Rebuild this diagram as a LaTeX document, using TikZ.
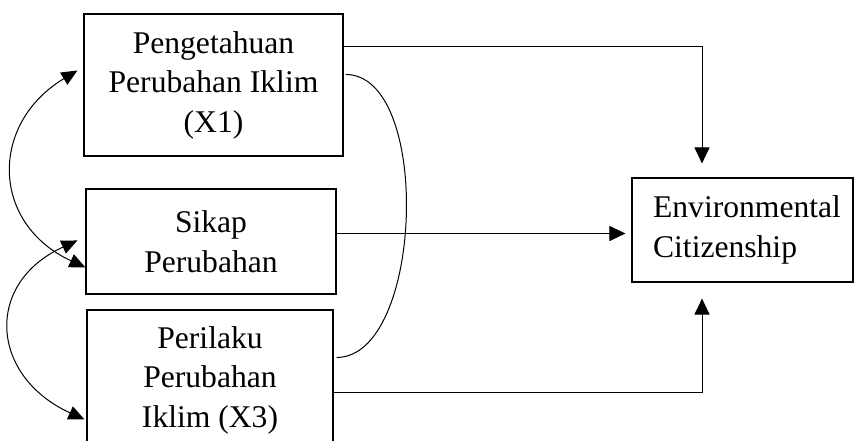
\documentclass[tikz,border=0pt]{standalone}
\usepackage{fontspec}
\setmainfont{Liberation Serif}
\usetikzlibrary{arrows.meta,calc}
\begin{document}
\begin{tikzpicture}[x=1pt,y=-1pt,
  box/.style={draw,line width=1.1pt,inner sep=0pt,align=center,font=\fontsize{31.6}{39.5}\selectfont},
  link/.style={line width=1pt,-{Triangle[length=16pt,width=15pt]}},
  curv/.style={line width=1pt,{Triangle[length=16pt,width=14pt]}-{Triangle[length=16pt,width=14pt]}},
  plain/.style={line width=1pt}]
\useasboundingbox (0,0) rectangle (856,440);

\node[box,minimum width=259pt,minimum height=142pt] (x1) at (213.5,85) {Pengetahuan\\Perubahan Iklim\\(X1)};
\node[box,minimum width=250pt,minimum height=105pt] (sik) at (211,241.5) {Sikap\\Perubahan};
\node[box,minimum width=246pt,minimum height=140pt] (x3) at (210,380) {Perilaku\\Perubahan\\Iklim (X3)};
\node[box,align=left,minimum width=221pt,minimum height=104pt] (env) at (742.5,230) {\hspace*{9pt}Environmental\\\hspace*{9pt}Citizenship};

% paths to Environmental Citizenship
\coordinate (a1) at ($(x1.north east)+(0,33)$);
\draw[link,shorten >=14pt] (a1) -| ([xshift=-40.5pt]env.north);
\coordinate (a2) at ($(sik.east)+(0,-8)$);
\draw[link,shorten >=6pt] (a2) -- (a2 -| env.west);
\coordinate (a3) at ($(x3.north east)+(0,83)$);
\draw[link,shorten >=16pt] (a3) -| ([xshift=-40.5pt]env.south);

% correlation X1 -- X3 on the right
\coordinate (r1) at ($(x1.north east)+(2,61)$);
\coordinate (r3) at ($(x3.north east)+(3,48)$);
\draw[plain] (r1) .. controls +(87,0) and +(87,0) .. (r3);

% correlations on the left
\coordinate (l1) at ($(x1.north west)+(-6,57)$);
\coordinate (l2) at ($(sik.north west)+(0,79)$);
\draw[curv] (l1) .. controls +(-88,53) and +(-95,-44) .. (l2);
\coordinate (l3) at ($(sik.north west)+(-8,52)$);
\coordinate (l4) at ($(x3.north west)+(-2,110)$);
\draw[curv] (l3) .. controls +(-94,43) and +(-94,-43) .. (l4);
\end{tikzpicture}
\end{document}
